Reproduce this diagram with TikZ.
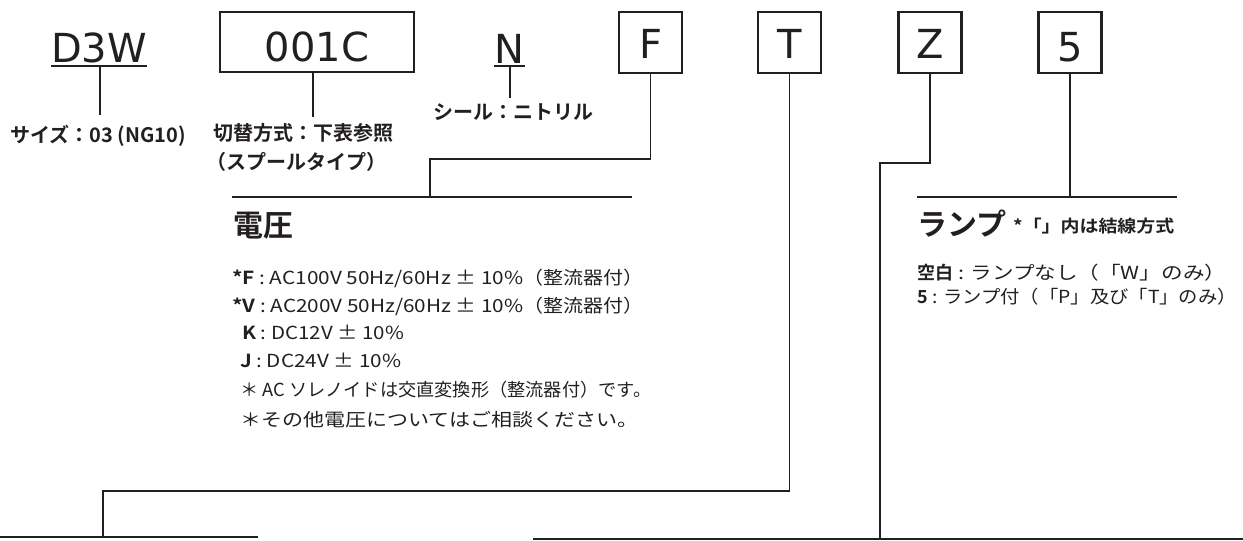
\documentclass[tikz,border=0pt]{standalone}
\usepackage{graphicx}
\usepackage{fontspec}
\setmainfont{Noto Sans CJK JP}[BoldFont={Noto Sans CJK JP Bold}]
\newfontfamily\codefont{DejaVu Sans}
\definecolor{ink}{RGB}{35,31,32}
\newcommand\fitw[2]{\resizebox{#1}{\height}{#2}}
\tikzset{
  codebox/.style={draw=ink, text=ink, line width=2.2pt, inner sep=0pt,
    minimum width=63pt, minimum height=61pt, text depth=0pt, text height=31pt,
    font=\codefont\fontsize{40}{40}\selectfont},
  codetext/.style={text=ink, inner xsep=0pt, inner ysep=3pt, font=\codefont\fontsize{40}{40}\selectfont},
  conn/.style={draw=ink, line width=1.5pt},
  bar/.style={draw=ink, line width=1.6pt},
  lbl/.style={text=ink, inner sep=0pt, anchor=west, font=\bfseries\fontsize{20}{24}\selectfont},
  head/.style={text=ink, inner sep=0pt, anchor=west, font=\bfseries\fontsize{30}{34}\selectfont},
  body/.style={text=ink, inner sep=0pt, anchor=base west, font=\fontsize{18}{22}\selectfont},
  note/.style={text=ink, inner sep=0pt, anchor=west, font=\bfseries\fontsize{17}{20}\selectfont}
}
\begin{document}
\begin{tikzpicture}[x=1pt,y=-1pt]
\useasboundingbox (0,0) rectangle (1243,541);
% code parts
\node[codetext, anchor=base] (d3w) at (99,62) {D3W};
\node[codebox, minimum width=194pt, minimum height=60pt, text height=38pt] (c001) at (317,42) {001C};
\node[codetext, anchor=base] (n) at (509.5,63) {N};
\node[codebox] (f) at (650.5,42.5) {F};
\node[codebox] (t) at (789.5,42.5) {T};
\node[codebox] (z) at (930,42.5) {Z};
\node[codebox, text height=38pt] (five) at (1070,42.5) {5};
% underlines
\draw[conn] (d3w.south west) -- (d3w.south east);
\draw[conn] (n.south west) -- (n.south east);
% labels
\node[lbl] (sz) at (10,136) {サイズ：03 (NG10)};
\node[lbl] (sw1) at (213,133) {切替方式：下表参照};
\node[lbl] (sw2) at (206,162) {（スプールタイプ）};
\node[lbl] (seal) at (433,112) {シール：ニトリル};
% connector coordinates
\coordinate (szc) at (100,115);
\coordinate (swc) at (313,117);
\coordinate (sealc) at (510,98);
\coordinate (f1) at (650.5,159);
\coordinate (fj) at (430,197);
\coordinate (t1) at (789.5,491);
\coordinate (tj) at (103,537);
\coordinate (z1) at (930,163);
\coordinate (zj) at (880,539);
\coordinate (lj) at (1070,197);
\coordinate (vb1) at (232,197);
\coordinate (vb2) at (632,197);
\coordinate (lb1) at (917,197);
\coordinate (lb2) at (1177,197);
\coordinate (bl1) at (0,537);
\coordinate (bl2) at (258,537);
\coordinate (br1) at (533,539);
\coordinate (br2) at (1243,539);
% connectors
\draw[conn] (d3w.south -| szc) -- (szc);
\draw[conn] (c001.south -| swc) -- (swc);
\draw[conn] (n.south -| sealc) -- (sealc);
\draw[conn] (f.south) -- (f1) -| (fj);
\draw[conn] (t.south) -- (t1) -| (tj);
\draw[conn] (z.south) -- (z1) -| (zj);
\draw[conn] (five.south) -- (lj);
% bars
\draw[bar] (vb1) -- (vb2);
\draw[bar] (lb1) -- (lb2);
\draw[bar] (bl1) -- (bl2);
\draw[bar] (br1) -- (br2);
% voltage section
\node[head] (volt) at (233,226) {電圧};
\node[body] (vf) at (232,284) {\fitw{291pt}{\textbf{*F} : AC100V 50Hz/60Hz ± 10\%}\fitw{120pt}{（整流器付）}};
\node[body] (vv) at (232,312) {\fitw{291pt}{\textbf{*V} : AC200V 50Hz/60Hz ± 10\%}\fitw{120pt}{（整流器付）}};
\node[body] (vk) at (242,339) {\fitw{162pt}{\textbf{K} : DC12V ± 10\%}};
\node[body] (vj) at (240,367) {\fitw{161pt}{\textbf{J} : DC24V ± 10\%}};
\node[body] (n1) at (240,396) {\fitw{411pt}{＊ AC ソレノイドは交直変換形（整流器付）です。}};
\node[body] (n2) at (240,426) {\fitw{398pt}{＊その他電圧についてはご相談ください。}};
% lamp section
\node[head] (lamp) at (917,224) {ランプ};
\node[note] (lampn) at (1013,226) {\fitw{161pt}{*「」内は結線方式}};
\node[body] (l1) at (917,279) {\textbf{空白}\fitw{273pt}{ : ランプなし（「W」のみ）}};
\node[body] (l2) at (917,303) {\textbf{5}\fitw{309pt}{ : ランプ付（「P」及び「T」のみ）}};
\end{tikzpicture}
\end{document}
